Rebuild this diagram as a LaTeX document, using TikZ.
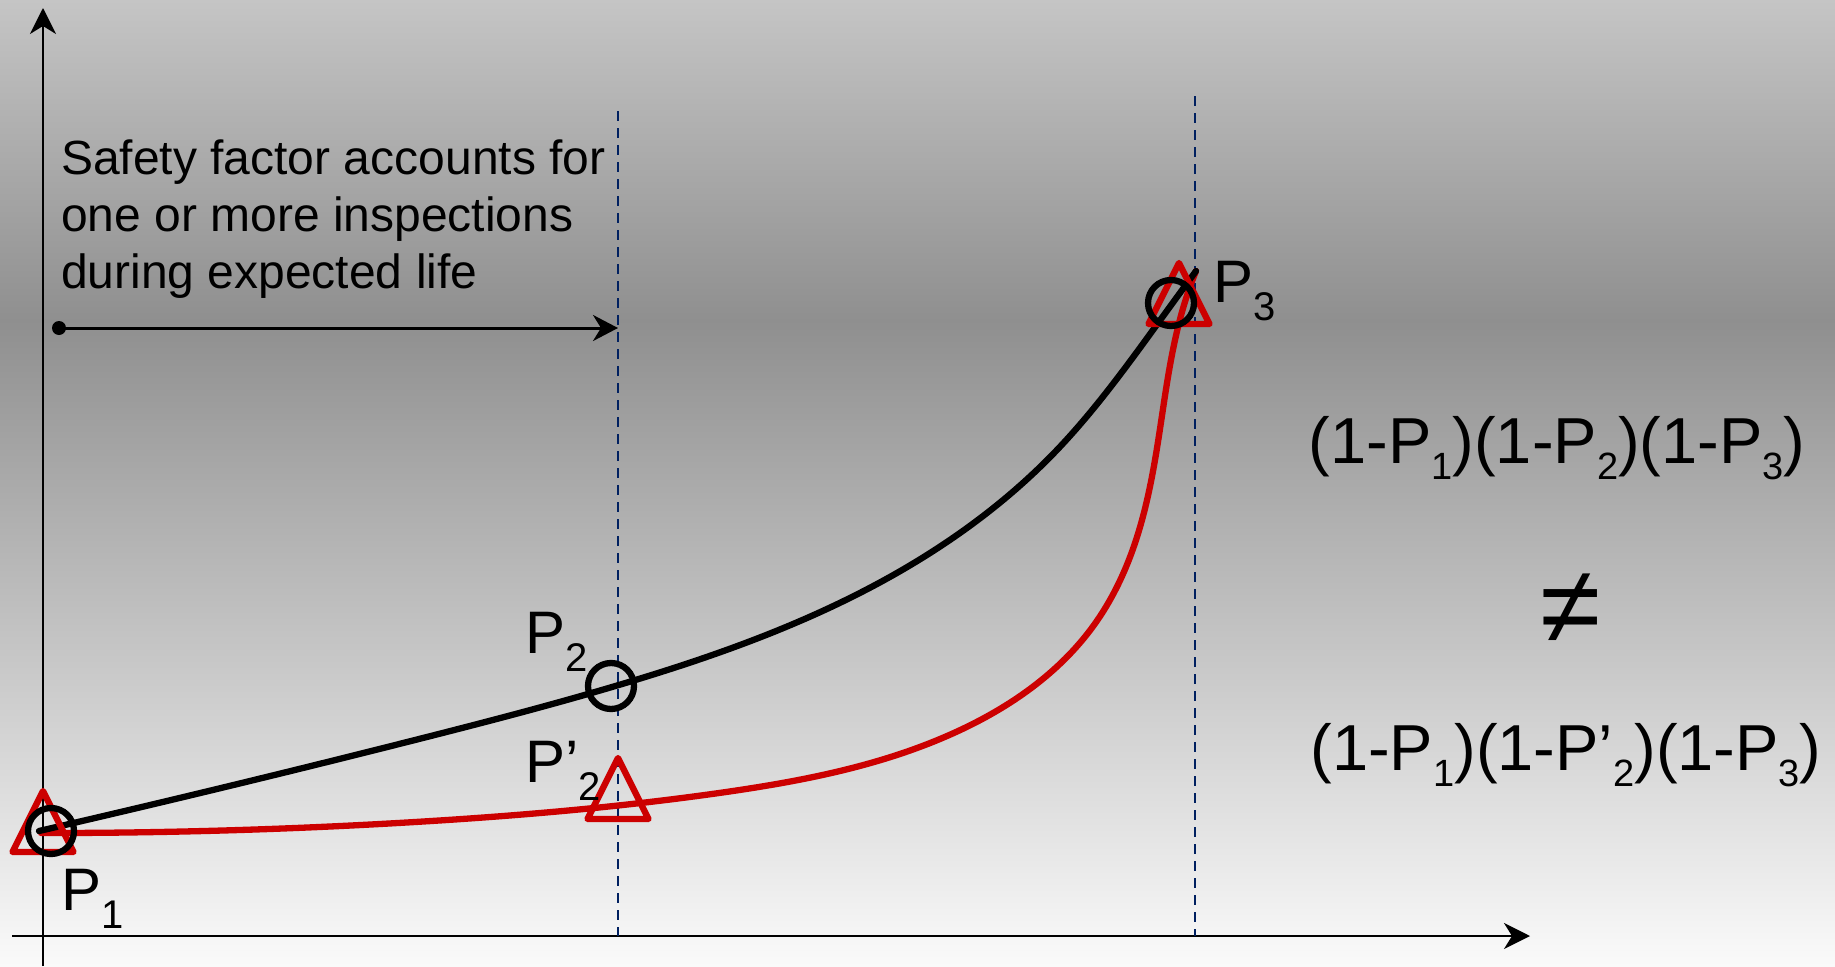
\documentclass[tikz,border=0pt]{standalone}
\usepackage{fontspec}
\setmainfont{Liberation Sans}
\usetikzlibrary{arrows.meta,hobby}
\definecolor{bgtop}{RGB}{197,197,197}
\definecolor{bgmid}{RGB}{143,143,143}
\definecolor{bgbot}{RGB}{250,250,250}
\definecolor{pred}{RGB}{204,0,0}
\definecolor{navyline}{RGB}{0,32,96}
\newcommand{\lblsub}[1]{\raisebox{-18pt}{\fontsize{40}{40}\selectfont #1}}
\newcommand{\fsub}[1]{\raisebox{-16pt}{\fontsize{38}{38}\selectfont #1}}
\begin{document}
\begin{tikzpicture}[x=1pt,y=-1pt,
  axisline/.style={black, line width=2pt, -{Stealth[length=26pt,width=26pt,inset=8pt]}},
  guide/.style={navyline, line width=2.2pt, dash pattern=on 10pt off 7pt},
  curveblk/.style={black, line width=6.3pt, line cap=round},
  curvered/.style={pred, line width=6.3pt, line cap=round},
  tri/.style={pred, line width=6.3pt, line join=round},
  ring/.style={circle, draw=black, line width=6.3pt, minimum size=46pt, inner sep=0pt},
  lab/.style={anchor=base west, inner sep=0pt, font=\fontsize{60}{60}\selectfont},
  note/.style={anchor=base west, inner sep=0pt, font=\fontsize{48}{57}\selectfont},
  formula/.style={anchor=base, inner sep=0pt, font=\fontsize{65}{65}\selectfont}
]
\useasboundingbox (0,0) rectangle (1835,966);
% background
\shade[top color=bgtop, bottom color=bgmid] (0,0) rectangle (1835,321);
\shade[top color=bgmid, bottom color=bgbot] (0,320) rectangle (1835,966);

% axes
\coordinate (yb) at (43,966);
\coordinate (yt) at (43,8);
\coordinate (xl) at (12,936);
\coordinate (xr) at (1530,936);
\draw[axisline] (yb) -- (yt);
\draw[axisline, line width=2.5pt] (xl) -- (xr);

% dashed guides
\coordinate (g1t) at (618,111);
\coordinate (g1b) at (618,936);
\coordinate (g2t) at (1195,96);
\coordinate (g2b) at (1195,936);
\draw[guide] (g1t) -- (g1b);
\draw[guide] (g2t) -- (g2b);

% note text
\node[note] (t1) at (61,174) {Safety factor accounts for};
\node[note] (t2) at (61,231) {one or more inspections};
\node[note] (t3) at (61,288) {during expected life};
\coordinate (sfA) at (59,328);
\coordinate (sfB) at (618,328);
\fill (sfA) circle (7);
\draw[black, line width=3pt, -{Stealth[length=25pt,width=26pt,inset=8pt]}] (sfA) -- (sfB);

% curves
\coordinate (rs) at (41,833);
\coordinate (bs) at (39,831);
\coordinate (ce) at (1196,271);
\draw[curvered] (rs) to[curve through={(415,822) (719,793) (956,732) (1094,625) (1134,546) (1157,448) (1184,305)}] (ce);
\draw[curveblk] (bs) to[curve through={(415,740) (612,687) (877,584) (1055,452) (1161,319)}] (ce);

% triangles
\draw[tri] (43,791) -- (12.5,852) -- (73.5,852) -- cycle;
\draw[tri] (618,758) -- (587.5,819) -- (648.5,819) -- cycle;
\draw[tri] (1179,263) -- (1148.5,324) -- (1209.5,324) -- cycle;

% circles
\node[ring] (c1) at (51,831) {};
\node[ring] (c2) at (611,686) {};
\node[ring] (c3) at (1171,303) {};

% point labels
\node[lab] (l1) at (61,910) {P\lblsub{1}};
\node[lab] (l2) at (525,653) {P\lblsub{2}};
\node[lab] (l2p) at (525,782) {P’\lblsub{2}};
\node[lab] (l3) at (1213,302) {P\lblsub{3}};

% formulas
\node[formula] (f1) at (1557,463) {(1-P\fsub{1})(1-P\fsub{2})(1-P\fsub{3})};
\node[anchor=base, inner sep=0pt, font=\fontsize{110}{110}\selectfont] (ne) at (1571,643) {≠};
\node[formula] (f2) at (1566,770) {(1-P\fsub{1})(1-P’\fsub{2})(1-P\fsub{3})};
\end{tikzpicture}
\end{document}
